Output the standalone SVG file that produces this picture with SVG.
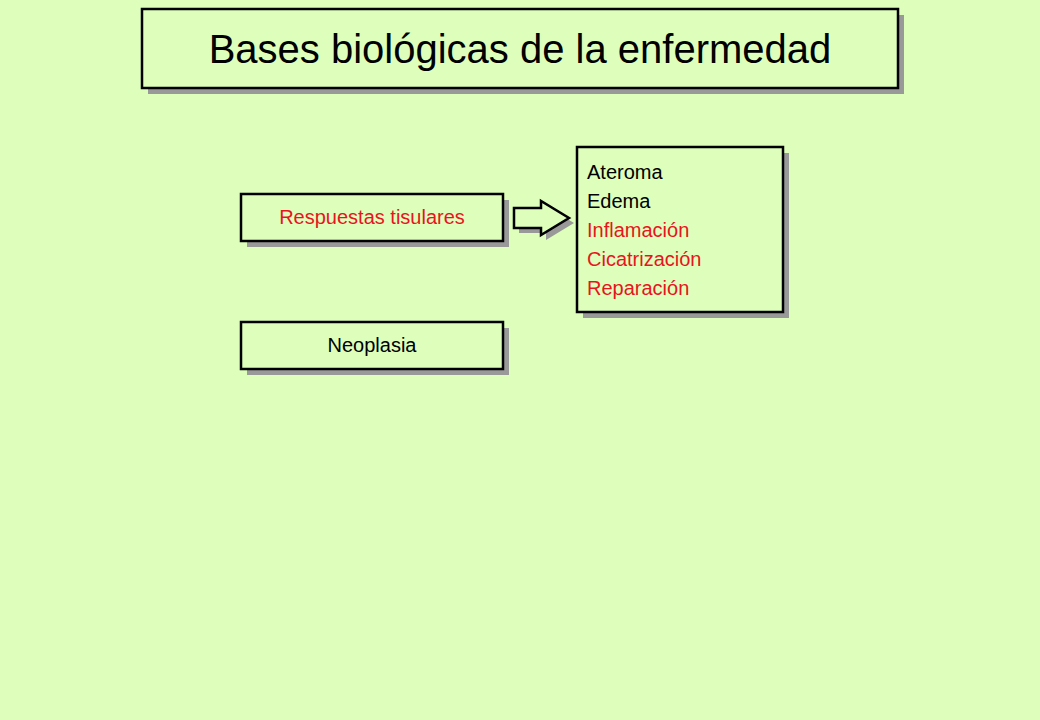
<svg xmlns="http://www.w3.org/2000/svg" width="1040" height="720" viewBox="0 0 1040 720">
<style>
.sh{fill:#999}
.bx{fill:#ddffbb;stroke:#000;stroke-width:2.5}
text{font-family:"Liberation Sans",Arial,sans-serif}
.t{font-size:20px}
.r{fill:#e8141e}
</style>
<rect width="1040" height="720" fill="#ddffbb"/>
<g id="title"><rect class="sh" x="148" y="15" width="756" height="79"/><rect class="bx" x="142" y="9" width="756" height="79"/>
<text x="520" y="63" text-anchor="middle" font-size="40">Bases biológicas de la enfermedad</text></g>
<g id="respuestas"><rect class="sh" x="247" y="200" width="262" height="47"/><rect class="bx" x="241" y="194" width="262" height="47"/>
<text class="t r" x="372" y="224" text-anchor="middle">Respuestas tisulares</text></g>
<g id="neoplasia"><rect class="sh" x="247" y="328" width="262" height="47"/><rect class="bx" x="241" y="322" width="262" height="47"/>
<text class="t" x="372" y="352" text-anchor="middle">Neoplasia</text></g>
<g id="lista"><rect class="sh" x="583" y="153" width="206" height="165"/><rect class="bx" x="577" y="147" width="206" height="165"/>
<text class="t" x="587" y="179">Ateroma</text>
<text class="t" x="587" y="208">Edema</text>
<text class="t r" x="587" y="237">Inflamación</text>
<text class="t r" x="587" y="266">Cicatrización</text>
<text class="t r" x="587" y="295">Reparación</text></g>
<g id="connectors">
<polygon class="sh" points="519,213 546,213 546,206 574,223 546,240 546,233 519,233"/>
<polygon fill="#ddffbb" stroke="#000" stroke-width="2.5" points="514,208 541,208 541,201 569,218 541,235 541,228 514,228"/>
</g>
</svg>
